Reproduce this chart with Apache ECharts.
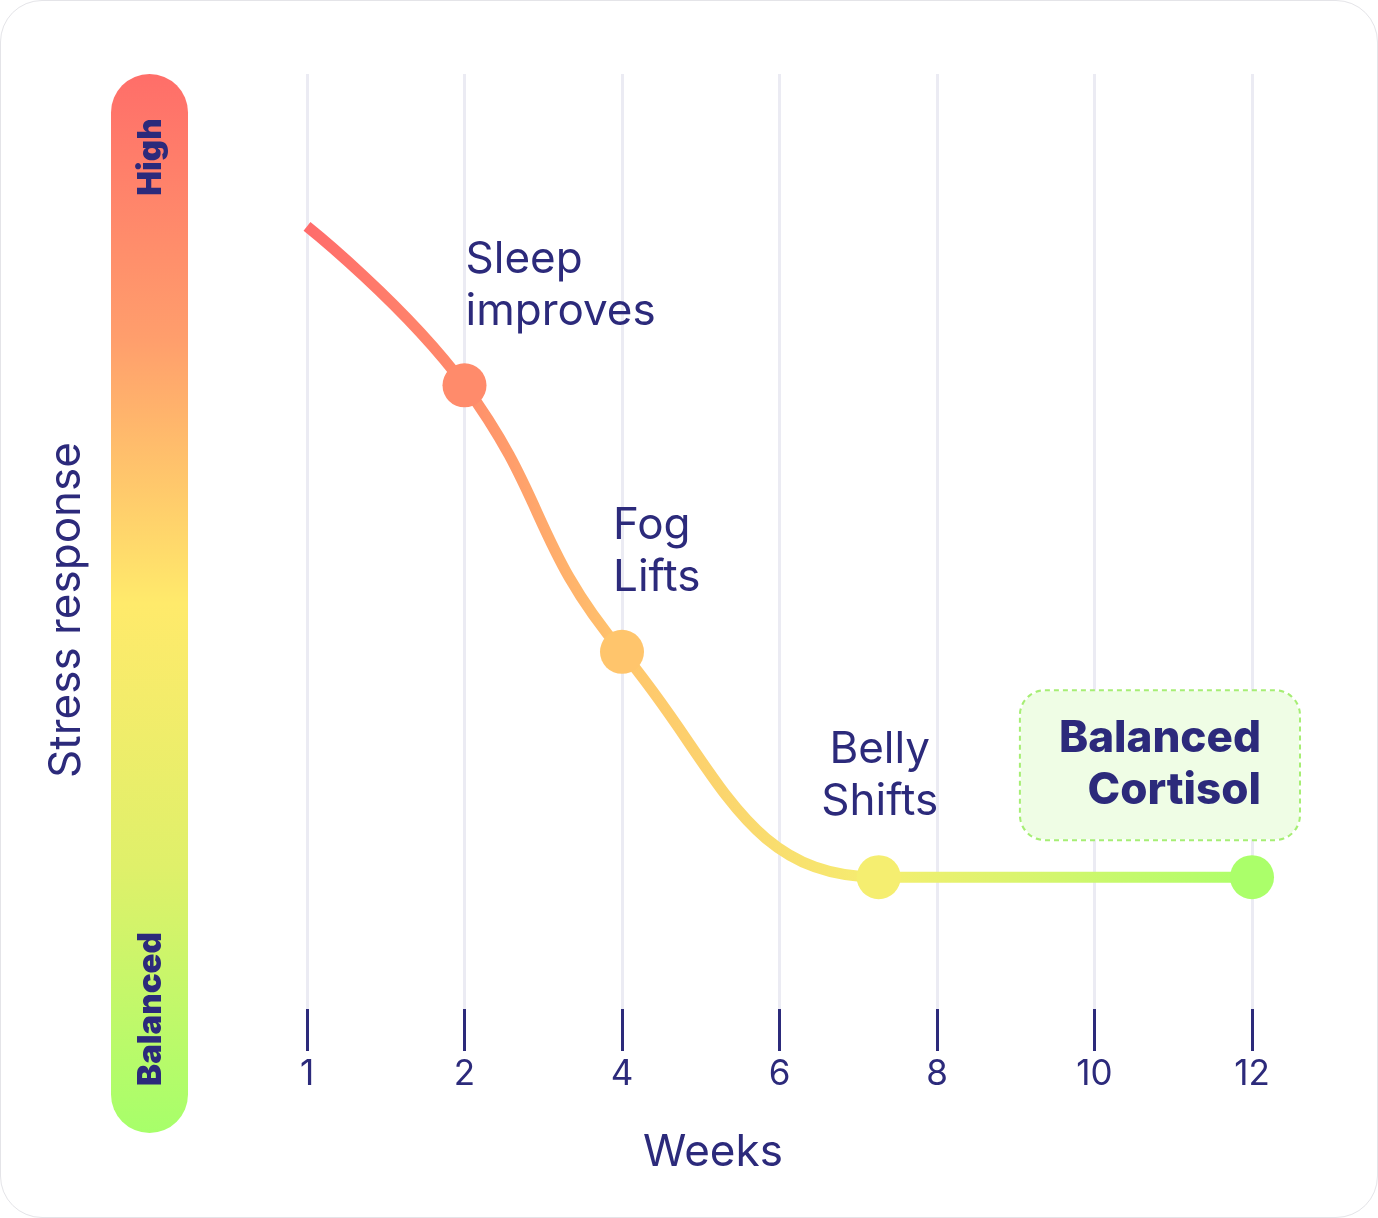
<!DOCTYPE html>
<html>
<head>
<meta charset="utf-8">
<script src="https://cdn.jsdelivr.net/npm/echarts@6/dist/echarts.min.js"></script>
<style>
  html, body { margin: 0; padding: 0; background: #fff; }
  .card { position: absolute; left: 0; top: 0; width: 1376px; height: 1216px;
          border: 1px solid #e4e4e8; border-radius: 42px; overflow: hidden; background: #fff; }
  .main { width: 1376px; height: 1216px; }
</style>
</head>
<body>
<div class="card"><div class="main" id="main"></div></div>
<script>
// week labels, equally spaced on the axis
var weekLabels = ['1', '2', '4', '6', '8', '10', '12'];
// x position (index along the week labels) and stress level (0-100)
var stepX = [0, 1, 2, 3.63, 6];
var stress = [83.7, 66.7, 38.2, 14.1, 14.1];
var stepNames = ['', 'Sleep\nimproves', 'Fog\nLifts', 'Belly\nShifts', 'Balanced\nCortisol'];
var dotColors = ['#ff6b6b', '#ff8b6b', '#ffc56c', '#f5ee70', '#abff6a'];

var navy = '#2c2a7b';
var font = 'Inter, "Noto Sans", sans-serif';

var myChart = echarts.init(document.getElementById('main'));

var seriesData = [];
for (var i = 0; i < stepX.length; i++) {
  var item = {
    value: [stepX[i], stress[i]],
    itemStyle: { color: dotColors[i] },
    symbolSize: i === 0 ? 0 : 44,
    label: { show: false }
  };
  if (i === 1 || i === 2) {
    item.label = { show: true, position: 'top', distance: 26, align: 'left',
      offset: [i === 1 ? 1 : -9, 0], formatter: stepNames[i] };
  } else if (i === 3) {
    item.label = { show: true, position: 'top', distance: 27, align: 'center',
      offset: [1, 0], formatter: stepNames[i] };
  } else if (i === 4) {
    item.label = { show: true, position: 'top', distance: 16, align: 'right',
      offset: [47, 0], formatter: stepNames[i],
      fontWeight: 800, fontSize: 44, backgroundColor: '#effde5',
      borderColor: '#a6ee74', borderWidth: 2, borderType: [5, 4], borderRadius: 24,
      padding: [22, 38, 22, 38] };
  }
  seriesData.push(item);
}

var option = {
  animation: false,
  textStyle: { fontFamily: font },
  grid: { left: 306, right: 125, top: 73, bottom: 208 },
  graphic: [
    {
      type: 'rect', left: 110, top: 73, z: 1,
      shape: { width: 77, height: 1059, r: 38.5 },
      style: {
        fill: new echarts.graphic.LinearGradient(0, 0, 0, 1, [
          { offset: 0, color: '#ff6e69' },
          { offset: 0.25, color: '#ff9e6c' },
          { offset: 0.5, color: '#ffea6b' },
          { offset: 0.75, color: '#dff06a' },
          { offset: 1, color: '#a7ff6a' }
        ])
      }
    },
    {
      type: 'text', x: 150, y: 156, rotation: Math.PI / 2, z: 2,
      style: { text: 'High', fill: navy, font: '900 33px ' + font,
        align: 'center', verticalAlign: 'middle' }
    },
    {
      type: 'text', x: 150, y: 1008, rotation: Math.PI / 2, z: 2,
      style: { text: 'Balanced', fill: navy, font: '900 33px ' + font,
        align: 'center', verticalAlign: 'middle' }
    },
    {
      type: 'text', x: 66, y: 609, rotation: Math.PI / 2, z: 2,
      style: { text: 'Stress response', fill: navy, font: '44px ' + font,
        align: 'center', verticalAlign: 'middle' }
    },
    {
      type: 'text', x: 712, y: 1152, z: 2,
      style: { text: 'Weeks', fill: navy, font: '44px ' + font,
        align: 'center', verticalAlign: 'middle' }
    }
  ],
  xAxis: {
    type: 'value', min: 0, max: 6, interval: 1,
    axisLine: { show: false },
    axisTick: { show: true, length: 42, lineStyle: { color: navy, width: 3 } },
    axisLabel: { color: navy, fontSize: 35, margin: 48, fontFamily: font,
      formatter: function (v) { return weekLabels[Math.round(v)]; } },
    splitLine: { show: true, lineStyle: { color: '#ebebf3', width: 3 } }
  },
  yAxis: {
    type: 'value', min: 0, max: 100,
    axisLine: { show: false }, axisTick: { show: false },
    axisLabel: { show: false }, splitLine: { show: false }
  },
  series: [{
    type: 'line',
    smooth: 0.45,
    symbol: 'circle',
    data: seriesData,
    lineStyle: {
      width: 11,
      color: new echarts.graphic.LinearGradient(0, 0, 1, 0, [
        { offset: 0, color: '#ff6b6b' },
        { offset: 0.166, color: '#ff8b6b' },
        { offset: 0.334, color: '#ffc56c' },
        { offset: 0.605, color: '#f5ee70' },
        { offset: 1, color: '#abff6a' }
      ])
    },
    label: { color: navy, fontSize: 44, lineHeight: 52, fontFamily: font },
    emphasis: { disabled: true },
    z: 3
  }]
};
myChart.setOption(option);
</script>
</body>
</html>
